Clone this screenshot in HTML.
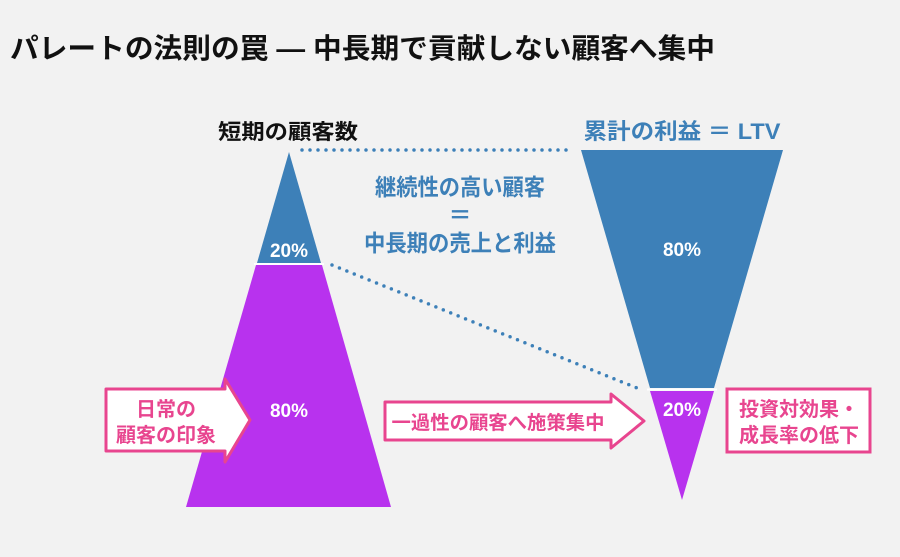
<!DOCTYPE html>
<html><head><meta charset="utf-8"><style>
body{margin:0;background:#f2f2f2;}
svg{display:block;font-family:"Liberation Sans","Noto Sans CJK JP",sans-serif;font-weight:bold;}
</style></head><body>
<svg width="900" height="557" viewBox="0 0 900 557">
<rect width="900" height="557" fill="#f2f2f2"/>
<text x="10" y="58" font-size="28" fill="#111" textLength="705" lengthAdjust="spacingAndGlyphs">パレートの法則の罠 ― 中長期で貢献しない顧客へ集中</text>
<polygon points="289,152 257,263 321,263" fill="#3d80b8"/>
<polygon points="256,265 322,265 391,507 186,507" fill="#b832ee"/>
<line x1="254" y1="264" x2="324" y2="264" stroke="#fff" stroke-width="2"/>
<text x="289" y="257" font-size="19" fill="#fff" text-anchor="middle">20%</text>
<text x="289" y="417" font-size="19" fill="#fff" text-anchor="middle">80%</text>
<text x="288" y="139" font-size="21" fill="#111" text-anchor="middle" textLength="140" lengthAdjust="spacingAndGlyphs">短期の顧客数</text>
<polygon points="581,150 783,150 714,388 650,388" fill="#3d80b8"/>
<polygon points="650,391 714,391 682,500" fill="#b832ee"/>
<line x1="647" y1="389.5" x2="717" y2="389.5" stroke="#fff" stroke-width="2"/>
<text x="682" y="256" font-size="19" fill="#fff" text-anchor="middle">80%</text>
<text x="682" y="416" font-size="19" fill="#fff" text-anchor="middle">20%</text>
<text x="682" y="139" font-size="22" fill="#3d80b8" text-anchor="middle" textLength="197" lengthAdjust="spacingAndGlyphs">累計の利益 ＝ LTV</text>
<line x1="302" y1="150" x2="572" y2="150" stroke="#3d80b8" stroke-width="3.5" stroke-linecap="round" stroke-dasharray="0 8"/>
<line x1="332" y1="265" x2="637" y2="388" stroke="#3d80b8" stroke-width="3.5" stroke-linecap="round" stroke-dasharray="0 8"/>
<g font-size="23" fill="#3d80b8" text-anchor="middle">
<text x="460" y="195" textLength="170" lengthAdjust="spacingAndGlyphs">継続性の高い顧客</text>
<text x="460" y="223">＝</text>
<text x="460" y="251" textLength="192" lengthAdjust="spacingAndGlyphs">中長期の売上と利益</text>
</g>
<polygon points="106,389 225,389 225,379 250,420 225,462 225,451 106,451" fill="#fff" stroke="#e8458f" stroke-width="3" stroke-linejoin="round"/>
<g font-size="20" fill="#e8458f" text-anchor="middle">
<text x="166" y="416">日常の</text>
<text x="166" y="442">顧客の印象</text>
</g>
<polygon points="385,402 611,402 611,394 644,421 611,448 611,440 385,440" fill="#fff" stroke="#e8458f" stroke-width="3" stroke-linejoin="round"/>
<text x="498" y="429" font-size="19" fill="#e8458f" text-anchor="middle" textLength="213" lengthAdjust="spacingAndGlyphs">一過性の顧客へ施策集中</text>
<rect x="727" y="389" width="143" height="63" fill="#fff" stroke="#e8458f" stroke-width="3"/>
<g font-size="20" fill="#e8458f" text-anchor="middle">
<text x="799" y="416">投資対効果・</text>
<text x="799" y="442">成長率の低下</text>
</g>
</svg>
</body></html>
